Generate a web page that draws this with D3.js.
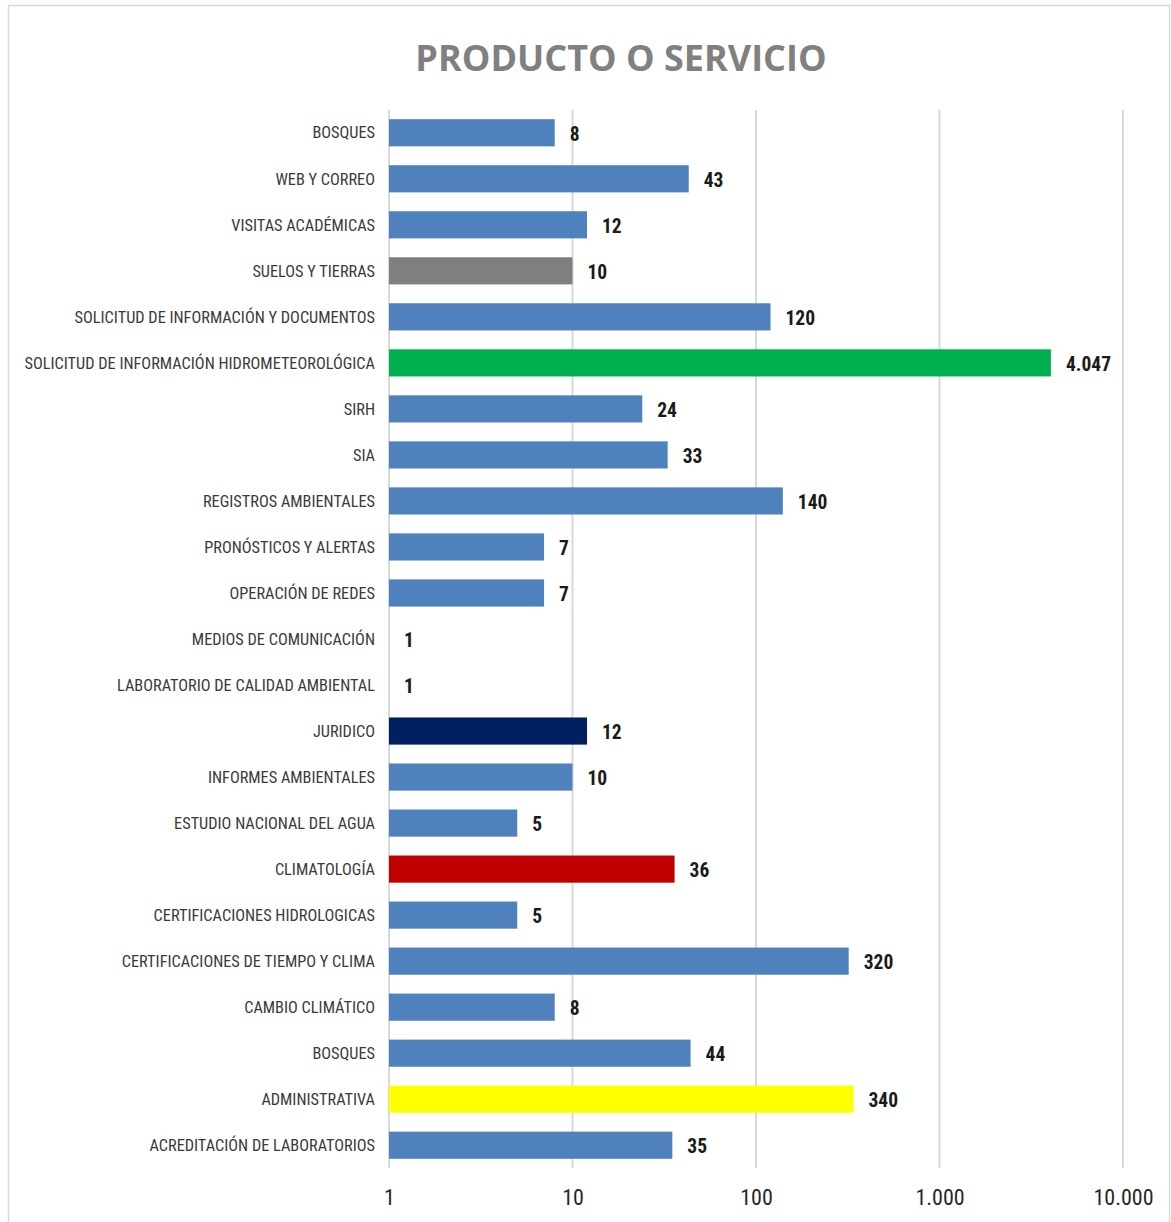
<!DOCTYPE html>
<html>
<head>
<meta charset="utf-8">
<script src="https://cdn.jsdelivr.net/npm/d3@7"></script>
<style>
  body { margin: 0; background: #fff; }
  .narrow { font-family: "Liberation Sans Narrow", "Arial Narrow", "Roboto Condensed", sans-serif; }
</style>
</head>
<body>
<div id="wrapper"></div>
<script>
const categories = [
  "BOSQUES", "WEB Y CORREO", "VISITAS ACADÉMICAS", "SUELOS Y TIERRAS",
  "SOLICITUD DE INFORMACIÓN Y DOCUMENTOS", "SOLICITUD DE INFORMACIÓN HIDROMETEOROLÓGICA",
  "SIRH", "SIA", "REGISTROS AMBIENTALES", "PRONÓSTICOS Y ALERTAS", "OPERACIÓN DE REDES",
  "MEDIOS DE COMUNICACIÓN", "LABORATORIO DE CALIDAD AMBIENTAL", "JURIDICO",
  "INFORMES AMBIENTALES", "ESTUDIO NACIONAL DEL AGUA", "CLIMATOLOGÍA",
  "CERTIFICACIONES HIDROLOGICAS", "CERTIFICACIONES DE TIEMPO Y CLIMA",
  "CAMBIO CLIMÁTICO", "BOSQUES", "ADMINISTRATIVA", "ACREDITACIÓN DE LABORATORIOS"
];
const values = [8, 43, 12, 10, 120, 4047, 24, 33, 140, 7, 7, 1, 1, 12, 10, 5, 36, 5, 320, 8, 44, 340, 35];
const barColors = [
  "#4f81bd", "#4f81bd", "#4f81bd", "#7f7f7f", "#4f81bd", "#00b050",
  "#4f81bd", "#4f81bd", "#4f81bd", "#4f81bd", "#4f81bd", "#4f81bd", "#4f81bd", "#002060",
  "#4f81bd", "#4f81bd", "#c00000", "#4f81bd", "#4f81bd", "#4f81bd", "#4f81bd", "#ffff00", "#4f81bd"
];
const tickValues = [1, 10, 100, 1000, 10000];
const tickLabels = ["1", "10", "100", "1.000", "10.000"];

const width = 1171;
const height = 1222;
const margin = { top: 110, right: 48, bottom: 54, left: 389 };

const svg = d3.select("#wrapper").append("svg")
  .attr("width", width)
  .attr("height", height);

// chart frame
svg.append("rect")
  .attr("x", 8.5).attr("y", 5.5)
  .attr("width", width - 10).attr("height", height - 4)
  .attr("fill", "#fff")
  .attr("stroke", "#d9d9d9")
  .attr("stroke-width", 1.5);

svg.append("text")
  .attr("x", 621).attr("y", 71)
  .attr("text-anchor", "middle")
  .attr("fill", "#808080")
  .style("font-family", "'Open Sans', Lato, sans-serif")
  .style("font-weight", "bold")
  .style("font-size", "36px")
  .text("PRODUCTO O SERVICIO");

const xScale = d3.scaleLog()
  .domain([1, 10000])
  .range([margin.left, width - margin.right]);

const yScale = d3.scaleBand()
  .domain(d3.range(categories.length))
  .range([margin.top, height - margin.bottom])
  .paddingInner(0.41)
  .paddingOuter(0.2);

// gridlines
svg.append("g")
  .selectAll("line")
  .data(tickValues)
  .join("line")
  .attr("x1", d => xScale(d)).attr("x2", d => xScale(d))
  .attr("y1", margin.top).attr("y2", height - margin.bottom)
  .attr("stroke", "#d9d9d9")
  .attr("stroke-width", 2);

svg.append("g")
  .selectAll("rect")
  .data(values)
  .join("rect")
  .attr("x", xScale(1))
  .attr("y", (d, i) => yScale(i))
  .attr("width", d => xScale(d) - xScale(1))
  .attr("height", yScale.bandwidth())
  .attr("fill", (d, i) => barColors[i]);

// category labels
svg.append("g")
  .attr("class", "narrow")
  .selectAll("text")
  .data(categories)
  .join("text")
  .attr("x", margin.left - 14)
  .attr("y", (d, i) => yScale(i) + yScale.bandwidth() / 2)
  .attr("dy", "0.35em")
  .attr("text-anchor", "end")
  .attr("fill", "#3a3a3a")
  .style("font-size", "16.3px")
  .text(d => d);

// value labels
svg.append("g")
  .attr("class", "narrow")
  .selectAll("text")
  .data(values)
  .join("text")
  .attr("x", d => xScale(d) + 15)
  .attr("y", (d, i) => yScale(i) + yScale.bandwidth() / 2 + 1)
  .attr("dy", "0.35em")
  .attr("fill", "#1a1a1a")
  .style("font-size", "19.5px")
  .style("font-weight", "bold")
  .text(d => d3.format(",")(d).replace(/,/g, "."));

// x axis
const xAxis = d3.axisBottom(xScale)
  .tickValues(tickValues)
  .tickFormat((d, i) => tickLabels[i])
  .tickSize(0)
  .tickPadding(21);

const axisG = svg.append("g")
  .attr("class", "narrow")
  .attr("transform", `translate(0,${height - margin.bottom})`)
  .call(xAxis);
axisG.select(".domain").remove();
axisG.selectAll("text")
  .attr("fill", "#262626")
  .style("font-family", "'Liberation Sans Narrow', 'Arial Narrow', 'Roboto Condensed', sans-serif")
  .style("font-size", "22px");
</script>
</body>
</html>
